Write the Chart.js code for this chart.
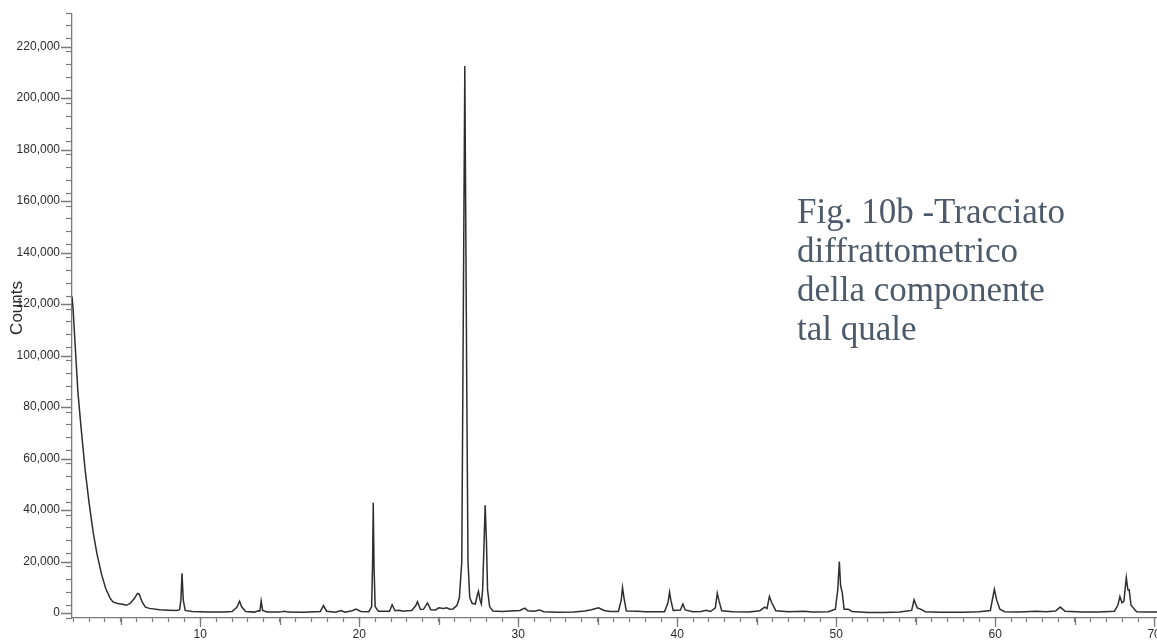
<!DOCTYPE html>
<html lang="it">
  <head>
    <meta charset="UTF-8" />
    <title>Fig. 10b</title>
    <script src="https://cdn.jsdelivr.net/npm/chart.js"></script>
    <style>
      body { margin: 0; background: #fff; overflow: hidden; }
      .wrap { position: relative; width: 1175px; height: 642px; }
      .caption {
        position: absolute;
        left: 797px;
        top: 192px;
        font-family: "Liberation Serif", "Times New Roman", serif;
        font-size: 35px;
        line-height: 39px;
        color: #4d5a6a;
      }
    </style>
  </head>
  <body>
    <div class="wrap">
      <canvas id="xrdChart" width="1175" height="642"></canvas>
      <div class="caption">Fig. 10b -Tracciato<br />diffrattometrico<br />della componente<br />tal quale</div>
    </div>

<script>
  const twoTheta = [
    1.93, 2.0, 2.12, 2.3, 2.5, 2.75, 3.0, 3.27, 3.5, 3.79, 4.05, 4.31, 4.5, 4.8, 5.1, 5.36,
    5.6, 5.85, 6.05, 6.15, 6.35, 6.55, 6.8, 7.45, 8.0, 8.5, 8.7, 8.78, 8.85, 8.93, 9.05, 9.5,
    10.5, 11.5, 12.0, 12.3, 12.47, 12.6, 12.85, 13.4, 13.65, 13.75, 13.83, 13.92, 14.2, 15.0,
    15.3, 15.5, 16.5, 17.55, 17.75, 17.95, 18.5, 18.85, 19.1, 19.55, 19.8, 20.1, 20.6, 20.78,
    20.84, 20.88, 20.93, 21.0, 21.2, 21.9, 22.07, 22.25, 22.5, 22.75, 23.0, 23.3, 23.55, 23.66,
    23.85, 24.05, 24.29, 24.5, 24.8, 25.0, 25.3, 25.5, 25.7, 25.9, 26.15, 26.3, 26.45, 26.52,
    26.64, 26.76, 26.84, 26.95, 27.1, 27.3, 27.43, 27.5, 27.6, 27.68, 27.76, 27.84, 27.92, 28.0,
    28.07, 28.2, 28.4, 29.0, 29.5, 30.1, 30.42, 30.6, 31.0, 31.35, 31.6, 32.5, 33.5, 34.2,
    34.6, 35.05, 35.4, 35.8, 36.3, 36.48, 36.56, 36.65, 36.8, 37.5, 38.0, 39.2, 39.42, 39.52,
    39.6, 39.75, 40.2, 40.36, 40.5, 41.0, 41.5, 41.82, 42.1, 42.4, 42.52, 42.62, 42.8, 43.5,
    44.5, 45.2, 45.5, 45.65, 45.8, 45.95, 46.2, 47.0, 48.0, 48.5, 49.5, 49.95, 50.1, 50.2,
    50.28, 50.38, 50.5, 50.75, 51.0, 52.0, 53.0, 54.0, 54.75, 54.9, 55.1, 55.35, 55.6, 56.5,
    58.0, 59.0, 59.7, 59.95, 60.1, 60.3, 60.6, 61.5, 62.6, 63.2, 63.8, 64.1, 64.4, 65.5,
    66.5, 67.5, 67.72, 67.85, 67.98, 68.1, 68.25, 68.35, 68.43, 68.55, 68.9, 69.5, 70.0, 71.0
  ];
  const counts = [
    123000, 118000, 105000, 86000, 72000, 56000, 43000, 31000, 23000, 15000, 9500, 6000, 4300, 3700, 3400, 3000,
    3800, 5600, 7600, 7400, 4200, 2300, 1800, 1300, 1100, 950, 1300, 5000, 15400, 5000, 1000, 600,
    400, 350, 600, 2200, 4600, 2400, 600, 350, 900, 800, 4600, 1000, 400, 350,
    700, 350, 300, 600, 2900, 700, 300, 1000, 300, 900, 1550, 600, 500, 2500,
    20000, 42800, 18000, 2500, 700, 700, 3200, 900, 1100, 700, 900, 1000, 2800, 4400,
    1400, 1500, 3900, 1300, 1200, 2000, 1800, 2000, 1500, 1600, 3000, 6000, 20000, 90000,
    212500, 90000, 20000, 6000, 3800, 3500, 7000, 8400, 5000, 3500, 9000, 25000, 41900, 28000,
    9000, 2500, 800, 600, 800, 1000, 1900, 900, 700, 1200, 500, 300, 400, 800,
    1300, 2000, 1000, 600, 600, 5000, 9900, 6000, 800, 700, 500, 500, 4000, 8100,
    5000, 1000, 1200, 3500, 1200, 500, 600, 1100, 600, 2000, 7700, 5000, 900, 500,
    400, 900, 2300, 1700, 6400, 4000, 900, 500, 700, 400, 500, 1500, 9000, 20000,
    10500, 8000, 1500, 1500, 600, 200, 200, 400, 1000, 5100, 2000, 1400, 500, 300,
    300, 500, 1000, 9200, 5000, 1500, 500, 400, 700, 500, 800, 2300, 700, 400,
    400, 700, 3000, 6400, 4000, 4500, 13800, 9000, 9000, 3000, 500, 400, 400, 400
  ];

  const xTickLabels = [10, 20, 30, 40, 50, 60, 70];
  const xMajorTicks = [5, 10, 15, 20, 25, 30, 35, 40, 45, 50, 55, 60, 65, 70];
  const yTickLabels = [0, 20000, 40000, 60000, 80000, 100000, 120000, 140000, 160000, 180000, 200000, 220000];
  const yTitle = "Counts";

  const punti = twoTheta.map((t, i) => ({ x: t, y: counts[i] }));

  function conVirgole(n) {
    return String(Math.round(n)).replace(/\B(?=(\d{3})+(?!\d))/g, ",");
  }
  function etichettaX(v) {
    const hit = xTickLabels.find(t => Math.abs(t - v) < 0.01);
    return hit === undefined ? "" : String(hit);
  }

  // tacche maggiori, etichette e titolo dell'asse Y
  const tacchePlugin = {
    id: "tacche",
    afterDraw(chart) {
      const ctx = chart.ctx;
      const sx = chart.scales.x;
      const sy = chart.scales.y;
      ctx.save();
      ctx.strokeStyle = "#7a7a7a";
      ctx.lineWidth = 1.3;
      ctx.beginPath();
      xMajorTicks.forEach(v => {
        const px = Math.round(sx.getPixelForValue(v)) + 0.5;
        const len = xTickLabels.includes(v) ? 9 : 7;
        ctx.moveTo(px, sx.top);
        ctx.lineTo(px, sx.top + len);
      });
      yTickLabels.forEach(v => {
        const py = Math.round(sy.getPixelForValue(v)) + 0.5;
        ctx.moveTo(sy.right - 11, py);
        ctx.lineTo(sy.right, py);
      });
      ctx.stroke();

      ctx.fillStyle = "#2b2b2b";
      ctx.font = "12px 'Liberation Sans', Arial, sans-serif";
      ctx.textAlign = "right";
      ctx.textBaseline = "middle";
      yTickLabels.forEach(v => {
        ctx.fillText(conVirgole(v), sy.right - 12, sy.getPixelForValue(v));
      });

      // titolo ruotato, sovrapposto alle etichette come nell'originale
      ctx.translate(17, sy.getPixelForValue(118500));
      ctx.rotate(-Math.PI / 2);
      ctx.font = "17px 'Liberation Sans', Arial, sans-serif";
      ctx.textAlign = "center";
      ctx.fillText(yTitle, 0, 0);
      ctx.restore();
    }
  };

  var xrdCtx = document.getElementById("xrdChart").getContext("2d");
  let grafico = new Chart(xrdCtx, {
    type: "scatter",
    data: {
      datasets: [
        {
          label: yTitle,
          data: punti,
          showLine: true,
          borderColor: "#2e2e2e",
          borderWidth: 1.5,
          pointRadius: 0,
          tension: 0,
        },
      ],
    },
    options: {
      responsive: false,
      animation: false,
      layout: { padding: { top: 10, left: 0, right: 0, bottom: 0 } },
      plugins: {
        legend: { display: false },
        tooltip: { enabled: false },
      },
      scales: {
        x: {
          type: "linear",
          min: 1.93,
          max: 71,
          afterFit(scale) { scale.height = 24; },
          border: { color: "#7a7a7a", width: 1.3 },
          grid: { drawOnChartArea: false, tickLength: 4, tickColor: "#7a7a7a", tickWidth: 1.2 },
          ticks: {
            stepSize: 1,
            autoSkip: false,
            includeBounds: false,
            maxRotation: 0,
            padding: 5,
            color: "#2b2b2b",
            font: { family: "Liberation Sans", size: 12 },
            callback: v => etichettaX(v),
          },
        },
        y: {
          type: "linear",
          bounds: "data",
          suggestedMin: -1935,
          suggestedMax: 233000,
          afterFit(scale) { scale.width = 72; },
          border: { color: "#7a7a7a", width: 1.3 },
          grid: { drawOnChartArea: false, tickLength: 6, tickColor: "#7a7a7a", tickWidth: 1.2 },
          ticks: {
            stepSize: 5000,
            autoSkip: false,
            includeBounds: false,
            padding: 6,
            callback: () => "",
          },
        },
      },
    },
    plugins: [tacchePlugin],
  });
</script>
  </body>
</html>
